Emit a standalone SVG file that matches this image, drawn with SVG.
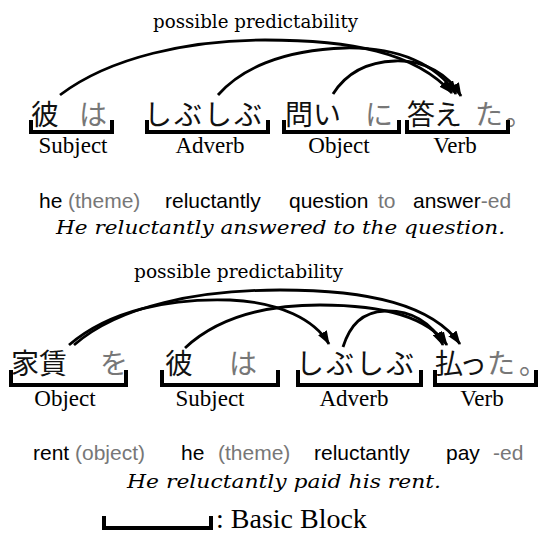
<svg xmlns="http://www.w3.org/2000/svg" width="548" height="545" viewBox="0 0 548 545">
<defs>
<marker id="ah" viewBox="0 0 14 10" refX="13" refY="5" markerWidth="14" markerHeight="10" markerUnits="userSpaceOnUse" orient="auto">
<path d="M0,0 L14,5 L0,10 z" fill="#000"/>
</marker>
<style>
.jp{font-family:"Noto Sans CJK JP","Noto Sans CJK SC",sans-serif;font-size:28px;fill:#111}
.pt{fill:#777}
.br{fill:none;stroke:#000;stroke-width:4;stroke-linejoin:miter}
.lb{font-family:"Liberation Serif",serif;font-size:23px;fill:#000;text-anchor:middle}
.gl{font-family:"Liberation Sans",sans-serif;font-size:21px;fill:#000}
.gr{fill:#777}
.it{font-family:"DejaVu Serif",serif;font-style:italic;font-size:19px;fill:#000}
.pp{font-family:"DejaVu Serif",serif;font-size:18px;fill:#000}
.ar{fill:none;stroke:#000;stroke-width:2.8;marker-end:url(#ah)}
</style>
</defs>
<rect width="548" height="545" fill="#fff"/>

<!-- Top sentence -->
<text class="pp" x="153" y="28" textLength="205" lengthAdjust="spacingAndGlyphs">possible predictability</text>

<g id="t-subject">
<text class="jp" x="31" y="125">彼</text>
<text class="jp pt" x="79" y="125">は</text>
<path class="br" d="M31,120 V132 H112 V120"/>
<text class="lb" x="73" y="153">Subject</text>
</g>
<g id="t-adverb">
<text class="jp" x="144 174 204 234" y="125">しぶしぶ</text>
<path class="br" d="M147,120 V132 H268 V120"/>
<text class="lb" x="210" y="153">Adverb</text>
</g>
<g id="t-object">
<text class="jp" x="285 313" y="125">問い</text>
<text class="jp pt" x="365" y="125">に</text>
<path class="br" d="M284,120 V132 H399 V120"/>
<text class="lb" x="339" y="153">Object</text>
</g>
<g id="t-verb">
<text class="jp" x="407 434" y="125">答え</text>
<text class="jp pt" x="475 505" y="125">た。</text>
<path class="br" d="M407,120 V132 H508 V120"/>
<text class="lb" x="455" y="153">Verb</text>
</g>

<text class="gl" y="208"><tspan x="39">he</tspan><tspan class="gr" x="68">(theme)</tspan><tspan x="165">reluctantly</tspan><tspan x="289">question</tspan><tspan class="gr" x="378">to</tspan><tspan x="413">answer</tspan><tspan class="gr">-ed</tspan></text>
<text class="it" x="56" y="234" textLength="449" lengthAdjust="spacingAndGlyphs">He reluctantly answered to the question.</text>

<g id="connectors-top">
<path class="ar" d="M60,95 C110,57 190,40 265,40 C350,40 415,52 452,93"/>
<path class="ar" d="M218,95 C240,70 280,50 345,48 C400,47 437,65 456,94"/>
<path class="ar" d="M333,94 C345,75 365,62 395,61 C425,60 449,75 461,96"/>
</g>

<!-- Bottom sentence -->
<text class="pp" x="134" y="278" textLength="209" lengthAdjust="spacingAndGlyphs">possible predictability</text>

<g id="b-object">
<text class="jp" x="11 39" y="374">家賃</text>
<text class="jp pt" x="100" y="374">を</text>
<path class="br" d="M11,370 V385 H126 V370"/>
<text class="lb" x="65" y="406">Object</text>
</g>
<g id="b-subject">
<text class="jp" x="165" y="374">彼</text>
<text class="jp pt" x="229" y="374">は</text>
<path class="br" d="M162,370 V385 H278 V370"/>
<text class="lb" x="210" y="406">Subject</text>
</g>
<g id="b-adverb">
<text class="jp" x="296 326 356 386" y="374">しぶしぶ</text>
<path class="br" d="M298,370 V385 H421 V370"/>
<text class="lb" x="354" y="406">Adverb</text>
</g>
<g id="b-verb">
<text class="jp" x="435 459" y="374">払っ</text>
<text class="jp pt" x="487 519" y="374">た。</text>
<path class="br" d="M435,370 V385 H536 V370"/>
<text class="lb" x="482" y="406">Verb</text>
</g>

<text class="gl" y="460"><tspan x="33">rent</tspan><tspan class="gr" x="75">(object)</tspan><tspan x="181">he</tspan><tspan class="gr" x="218">(theme)</tspan><tspan x="314">reluctantly</tspan><tspan x="446">pay</tspan><tspan class="gr" x="493">-ed</tspan></text>
<text class="it" x="127" y="488" textLength="314" lengthAdjust="spacingAndGlyphs">He reluctantly paid his rent.</text>

<g id="connectors-bottom">
<path class="ar" d="M69,345 C110,310 170,298 230,300 C280,302 315,320 329,344"/>
<path class="ar" d="M74,345 C120,305 200,290 280,290 C370,290 432,305 460,344"/>
<path class="ar" d="M185,348 C215,320 260,305 320,305 C390,305 430,320 447,345"/>
<path class="ar" d="M343,347 C350,325 362,312 385,311 C410,310 432,322 443,345"/>
</g>

<!-- Legend -->
<g id="legend">
<path class="br" d="M104,516 V528 H211 V516"/>
<text x="216" y="528" font-family="Liberation Serif, serif" font-size="28" fill="#000">: Basic Block</text>
</g>
</svg>
